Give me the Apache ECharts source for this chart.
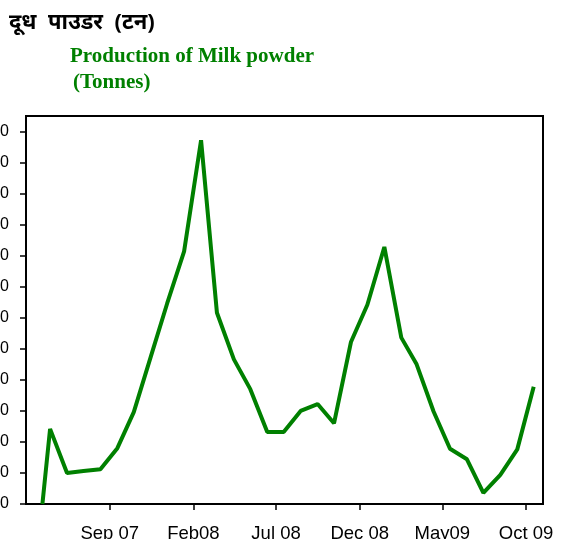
<!DOCTYPE html>
<html>
<head>
<meta charset="utf-8">
<script src="https://cdn.jsdelivr.net/npm/echarts@6/dist/echarts.min.js"></script>
<style>
  html, body { margin: 0; padding: 0; background: #fff; }
  #chart { width: 565px; height: 539px; }
</style>
</head>
<body>
<div id="chart"></div>
<script>
// monthly milk powder production
const dates = [
  '2007-05-01', '2007-05-15', '2007-06-15', '2007-07-15', '2007-08-15', '2007-09-15',
  '2007-10-15', '2007-11-15', '2007-12-15', '2008-01-15', '2008-02-15', '2008-03-15',
  '2008-04-15', '2008-05-15', '2008-06-15', '2008-07-15', '2008-08-15', '2008-09-15',
  '2008-10-15', '2008-11-15', '2008-12-15', '2009-01-15', '2009-02-15', '2009-03-15',
  '2009-04-15', '2009-05-15', '2009-06-15', '2009-07-15', '2009-08-15', '2009-09-15',
  '2009-10-15'
]
const production = [
  0, 121, 50, 53, 56, 90,
  148, 237, 323, 407, 586, 308,
  233, 185, 116, 116, 150, 161,
  130, 261, 321, 414, 268, 225,
  149, 89, 72, 18, 47, 88,
  189
]
const tickDates = ['2007-09-01', '2008-02-01', '2008-07-01', '2008-12-01', '2009-05-01', '2009-10-01']
const tickLabels = ['Sep 07', 'Feb08', 'Jul 08', 'Dec 08', 'May09', 'Oct 09']
const yTicks = [0, 50, 100, 150, 200, 250, 300, 350, 400, 450, 500, 550, 600]

// dates as UTC timestamps so the x axis is a plain number scale
const ts = (d) => {
  const [y, m, day] = d.split('-').map(Number)
  return Date.UTC(y, m - 1, day)
}
const tickValues = tickDates.map(ts)

const chart = echarts.init(document.getElementById('chart'))
chart.setOption({
  animation: false,
  title: [
    {
      text: 'दूध  पाउडर  (टन)',
      left: 9, top: 12, padding: 0,
      textStyle: { fontSize: 22, fontWeight: 'bold', color: '#000', fontFamily: 'Noto Sans, sans-serif' }
    },
    {
      text: 'Production of Milk powder',
      left: 70, top: 46, padding: 0,
      textStyle: { fontSize: 21, fontWeight: 'bold', color: '#008000', fontFamily: 'Liberation Serif, serif' }
    },
    {
      text: '(Tonnes)',
      left: 73, top: 72, padding: 0,
      textStyle: { fontSize: 21, fontWeight: 'bold', color: '#008000', fontFamily: 'Liberation Serif, serif' }
    }
  ],
  grid: {
    left: 26, right: 22, top: 116, bottom: 35,
    show: true, borderColor: '#000', borderWidth: 2,
    outerBoundsMode: 'none'
  },
  xAxis: {
    type: 'value',
    min: ts('2007-04-01'),
    max: ts('2009-11-01'),
    axisLine: { lineStyle: { color: '#000', width: 2 } },
    axisTick: { show: true, customValues: tickValues, length: 6, lineStyle: { color: '#000', width: 1.5 } },
    axisLabel: {
      customValues: tickValues,
      margin: 20,
      color: '#000',
      fontSize: 18.5,
      fontFamily: 'Liberation Sans, Arial, sans-serif',
      formatter: (v) => {
        const i = tickValues.findIndex((t) => Math.abs(t - v) < 86400000)
        return i < 0 ? '' : tickLabels[i]
      }
    },
    splitLine: { show: false }
  },
  yAxis: {
    type: 'value',
    min: 0,
    max: 625,
    axisLine: { show: true, lineStyle: { color: '#000', width: 2 } },
    axisTick: { show: true, customValues: yTicks, length: 6, lineStyle: { color: '#000', width: 1.5 } },
    axisLabel: {
      customValues: yTicks,
      margin: 17,
      color: '#000',
      fontSize: 16,
      fontFamily: 'Liberation Sans, Arial, sans-serif'
    },
    splitLine: { show: false }
  },
  series: [
    {
      name: 'Production of Milk powder',
      type: 'line',
      data: dates.map((d, i) => [ts(d), production[i]]),
      showSymbol: false,
      lineStyle: { width: 4, color: '#008000' },
      itemStyle: { color: '#008000' }
    }
  ]
})
</script>
</body>
</html>
